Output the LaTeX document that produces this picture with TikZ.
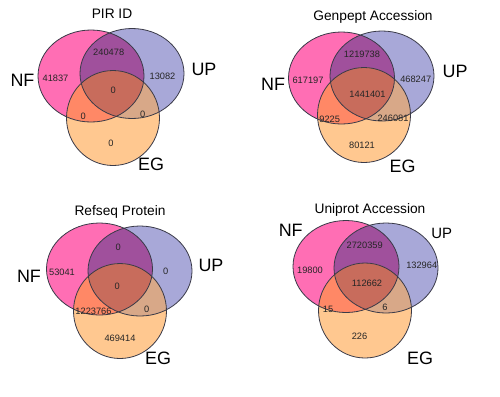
\documentclass[tikz,border=0pt]{standalone}
\usepackage{fontspec}
\setmainfont{Liberation Sans}
\definecolor{nfcol}{HTML}{FF6EB4}
\definecolor{upcol}{HTML}{A8A8D8}
\definecolor{egcol}{HTML}{FFC890}
\definecolor{nfupcol}{HTML}{A0509C}
\definecolor{nfegcol}{HTML}{FF8866}
\definecolor{upegcol}{HTML}{D8A888}
\definecolor{allcol}{HTML}{C86C5C}
\definecolor{edgecol}{HTML}{3A3A48}
\tikzset{
  nfshape/.style={x radius=53, y radius=46},
  upshape/.style={x radius=52, y radius=45},
  egshape/.style={x radius=46.5, y radius=47.5},
  outline/.style={draw=edgecol, line width=0.8bp},
  num/.style={font=\fontsize{9.3}{10}\selectfont, text=black!85, inner sep=0pt},
  setlabel/.style={font=\fontsize{18}{19}\selectfont, inner sep=0pt},
  paneltitle/.style={font=\fontsize{13.8}{15}\selectfont, inner sep=0pt},
}
\newcommand\vennpanel[7]{%
  \coordinate (#7nf) at (#1,#2);
  \coordinate (#7up) at (#3,#4);
  \coordinate (#7eg) at (#5,#6);
  \fill[nfcol] (#7nf) ellipse [nfshape];
  \fill[upcol] (#7up) ellipse [upshape];
  \fill[egcol] (#7eg) ellipse [egshape];
  \begin{scope}
    \clip (#7nf) ellipse [nfshape];
    \fill[nfupcol] (#7up) ellipse [upshape];
    \fill[nfegcol] (#7eg) ellipse [egshape];
  \end{scope}
  \begin{scope}
    \clip (#7up) ellipse [upshape];
    \fill[upegcol] (#7eg) ellipse [egshape];
    \clip (#7nf) ellipse [nfshape];
    \fill[allcol] (#7eg) ellipse [egshape];
  \end{scope}
  \draw[outline] (#7nf) ellipse [nfshape];
  \draw[outline] (#7up) ellipse [upshape];
  \draw[outline] (#7eg) ellipse [egshape];
}
\begin{document}
\begin{tikzpicture}[x=1bp, y=-1bp]
\useasboundingbox[fill=white] (0,0) rectangle (500,396);

% Panel 1: PIR ID
\vennpanel{91}{76}{132}{73.5}{113}{118}{a}
\node[paneltitle] (ta) at (112,13.5) {PIR ID};
\node[setlabel] (anf) at (22.5,80.5) {NF};
\node[setlabel] (aup) at (204,69) {UP};
\node[setlabel] (aeg) at (151,164) {EG};
\node[num] (a1) at (55.5,78.3) {41837};
\node[num] (a2) at (108.7,52.7) {240478};
\node[num] (a3) at (162.5,76) {13082};
\node[num] (a4) at (113.3,90) {0};
\node[num] (a5) at (83.3,116.7) {0};
\node[num] (a6) at (142.7,114.3) {0};
\node[num] (a7) at (111,143.3) {0};

% Panel 2: Genpept Accession
\vennpanel{341.5}{78}{382}{76}{364}{115}{b}
\node[paneltitle] (tb) at (373,16.5) {Genpept Accession};
\node[setlabel] (bnf) at (273,84) {NF};
\node[setlabel] (bup) at (455,71.5) {UP};
\node[setlabel] (beg) at (402.5,166) {EG};
\node[num] (b1) at (308,80.7) {617197};
\node[num] (b2) at (362,54.3) {1219738};
\node[num] (b3) at (415.7,79) {468247};
\node[num] (b4) at (367.5,94) {1441401};
\node[num] (b5) at (329.7,119) {9225};
\node[num] (b6) at (393,118.3) {246081};
\node[num] (b7) at (362,145.7) {80121};

% Panel 3: Refseq Protein
\vennpanel{99.5}{269}{140}{271}{120}{311}{c}
\node[paneltitle] (tc) at (120,212) {Refseq Protein};
\node[setlabel] (cnf) at (29,276.5) {NF};
\node[setlabel] (cup) at (211,265) {UP};
\node[setlabel] (ceg) at (158,358) {EG};
\node[num] (c1) at (62,272.7) {53041};
\node[num] (c2) at (118.3,247.7) {0};
\node[num] (c3) at (165.7,271) {0};
\node[num] (c4) at (117.3,286) {0};
\node[num] (c5) at (93.5,311) {1223766};
\node[num] (c6) at (146.7,309.3) {0};
\node[num] (c7) at (120,338.3) {469414};

% Panel 4: Uniprot Accession
\vennpanel{346}{266.5}{386}{268}{365}{310.5}{d}
\node[paneltitle] (td) at (370,210) {Uniprot Accession};
\node[setlabel] (dnf) at (290.7,230) {NF};
\node[setlabel, font=\fontsize{15}{16}\selectfont] (dup) at (441.7,233) {UP};
\node[setlabel] (deg) at (420,358) {EG};
\node[num] (d1) at (310,270.7) {19800};
\node[num] (d2) at (364.7,245) {2720359};
\node[num] (d3) at (421.7,265.7) {132964};
\node[num] (d4) at (367,283.3) {112662};
\node[num] (d5) at (328,309) {15};
\node[num] (d6) at (385,307.3) {6};
\node[num] (d7) at (359.5,336) {226};
\end{tikzpicture}
\end{document}
